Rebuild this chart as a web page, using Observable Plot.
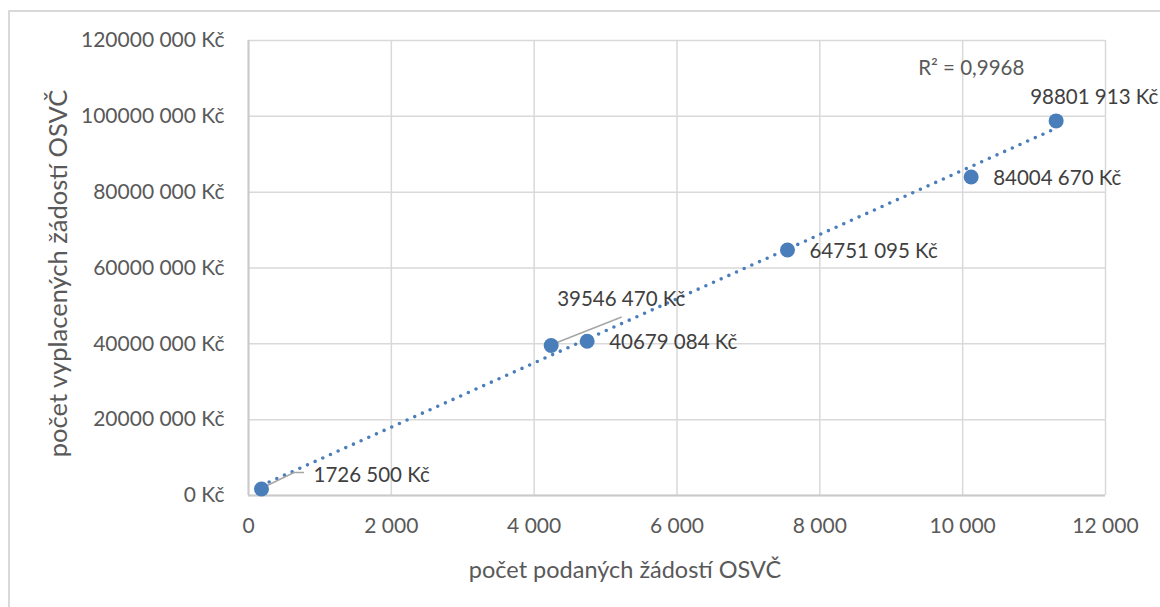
<!DOCTYPE html>
<html>
<head>
<meta charset="utf-8">
<script src="https://cdn.jsdelivr.net/npm/d3@7"></script>
<script src="https://cdn.jsdelivr.net/npm/@observablehq/plot@0.6"></script>
<style>
  html, body { margin: 0; padding: 0; background: #fff; }
  #wrap { position: relative; width: 1160px; height: 607px; overflow: hidden; }
  #border { position: absolute; left: 8px; top: 10px; width: 1200px; height: 700px;
            border-left: 2px solid #d9d9d9; border-top: 2px solid #d9d9d9; pointer-events: none; }
  #chart { position: absolute; left: 0; top: 0; }
</style>
</head>
<body>
<div id="wrap"><div id="chart"></div><div id="border"></div></div>
<script>
// ---- data ----
const applications = [182, 4238, 4742, 7547, 10119, 11309];            // počet podaných žádostí OSVČ
const payouts = [1726500, 39546470, 40679084, 64751095, 84004670, 98801913]; // vyplaceno (Kč)
const xTicks = [0, 2000, 4000, 6000, 8000, 10000, 12000];
const yTicks = [0, 20000000, 40000000, 60000000, 80000000, 100000000, 120000000];
const xTitle = "počet podaných žádostí OSVČ";
const yTitle = "počet vyplacených žádostí OSVČ";
const r2Label = ["R² = 0,9968"];

const fmtKc = v => {
  const s = String(Math.round(v));
  return (s.length > 3 ? s.slice(0, -3) + " " + s.slice(-3) : s) + " Kč";
};
const fmtX = v => d3.format(",")(v).replace(/,/g, " ");

const data = applications.map((x, i) => ({x, y: payouts[i], label: fmtKc(payouts[i]), i}));

const font = "Lato, 'Open Sans', sans-serif";
const txtColor = "#404040";
const blue = "#4a7ebb";

// leader lines (pixel offsets relative to the point)
function leaders(...args) {
  const scales = args.find(a => a && typeof a.x === "function" && typeof a.y === "function");
  const g = d3.create("svg:g");
  if (!scales) return g.node();
  const p1 = data[0], p2 = data[1];
  const x1 = scales.x(p1.x), y1 = scales.y(p1.y);
  g.append("path").attr("d", `M${x1},${y1}l33,-16h10`)
    .attr("fill", "none").attr("stroke", "#a6a6a6").attr("stroke-width", 1.5);
  const x2 = scales.x(p2.x), y2 = scales.y(p2.y);
  g.append("path").attr("d", `M${x2},${y2}l71,-28`)
    .attr("fill", "none").attr("stroke", "#a6a6a6").attr("stroke-width", 1.5);
  return g.node();
}

const labelOpts = {x: "x", y: "y", text: "label", fill: txtColor, fontSize: 20.5, textAnchor: "start"};

const chart = Plot.plot({
  width: 1160,
  height: 607,
  marginLeft: 248,
  marginRight: 55,
  marginTop: 40,
  marginBottom: 112,
  style: {fontFamily: font, background: "transparent", overflow: "visible"},
  x: {domain: [0, 12000], ticks: xTicks, tickFormat: fmtX},
  y: {domain: [0, 120000000], ticks: yTicks, tickFormat: fmtKc},
  marks: [
    Plot.gridX(xTicks, {stroke: "#d9d9d9", strokeOpacity: 1, strokeWidth: 1.5}),
    Plot.gridY(yTicks, {stroke: "#d9d9d9", strokeOpacity: 1, strokeWidth: 1.5}),
    Plot.ruleX([0], {stroke: "#cacaca", strokeWidth: 2}),
    Plot.ruleY([0], {stroke: "#cacaca", strokeWidth: 2}),
    Plot.axisX({ticks: xTicks, tickFormat: fmtX, tickSize: 0, tickPadding: 23, fontSize: 21, color: "#595959", label: null}),
    Plot.axisY({ticks: yTicks, tickFormat: fmtKc, tickSize: 0, tickPadding: 24, fontSize: 21, color: "#595959", label: null}),
    Plot.text([xTitle], {frameAnchor: "bottom", textAnchor: "middle", dx: -52, dy: 82, fontSize: 23.5, fill: "#595959"}),
    Plot.text([yTitle], {frameAnchor: "left", textAnchor: "middle", rotate: -90, dx: -190, dy: 5.5, fontSize: 25.5, fill: "#595959"}),
    Plot.linearRegressionY(data, {x: "x", y: "y", ci: 0, stroke: blue, strokeWidth: 3.6,
      strokeDasharray: "0 8.4", strokeLinecap: "round"}),
    leaders,
    Plot.dot(data, {x: "x", y: "y", r: 7.5, fill: blue, stroke: "none"}),
    Plot.text(data.filter(d => d.i === 0), {...labelOpts, dx: 52, dy: -14}),
    Plot.text(data.filter(d => d.i === 1), {...labelOpts, dx: 6, dy: -46}),
    Plot.text(data.filter(d => d.i >= 2 && d.i <= 4), {...labelOpts, dx: 22, dy: 1}),
    Plot.text(data.filter(d => d.i === 5), {...labelOpts, dx: -26, dy: -23}),
    Plot.text(data.filter(d => d.i === 5), {x: "x", y: "y", text: () => r2Label[0], fill: "#595959",
      fontSize: 20.5, textAnchor: "start", dx: -138, dy: -52})
  ]
});
document.getElementById("chart").appendChild(chart);
</script>
</body>
</html>
